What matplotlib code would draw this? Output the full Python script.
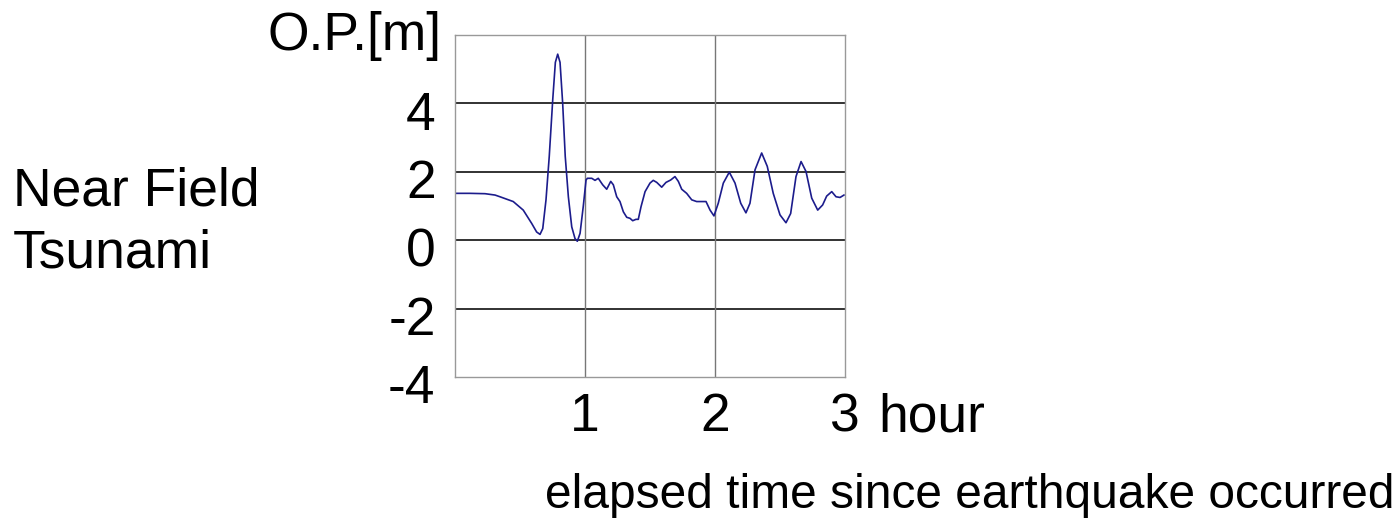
import numpy as np
import matplotlib
matplotlib.use('Agg')
import matplotlib.pyplot as plt
import matplotlib.transforms as mtransforms

plt.rcParams['font.family'] = ['Liberation Sans', 'DejaVu Sans']

# water level (hours since quake, metres O.P.)
hours = [0.0, 0.115, 0.231, 0.308, 0.346, 0.448, 0.525, 0.59, 0.628, 0.654,
         0.675, 0.7, 0.725, 0.752, 0.772, 0.79, 0.808, 0.828, 0.848, 0.872,
         0.898, 0.923, 0.941, 0.962, 0.987, 1.008, 1.018, 1.052, 1.077, 1.102,
         1.136, 1.167, 1.198, 1.218, 1.244, 1.269, 1.295, 1.321, 1.346, 1.367,
         1.392, 1.41, 1.431, 1.462, 1.5, 1.525, 1.552, 1.59, 1.623, 1.659,
         1.692, 1.718, 1.744, 1.782, 1.821, 1.859, 1.898, 1.931, 1.962, 1.992,
         2.025, 2.064, 2.11, 2.154, 2.198, 2.238, 2.269, 2.308, 2.359, 2.402,
         2.448, 2.5, 2.546, 2.582, 2.623, 2.662, 2.7, 2.744, 2.79, 2.828,
         2.859, 2.898, 2.931, 2.962, 2.992]
level = [1.37, 1.37, 1.36, 1.32, 1.27, 1.13, 0.88, 0.49, 0.24, 0.17,
         0.34, 1.18, 2.45, 4.12, 5.2, 5.44, 5.2, 4.02, 2.45, 1.27,
         0.39, 0.05, -0.03, 0.2, 1.0, 1.76, 1.81, 1.81, 1.75, 1.81,
         1.62, 1.49, 1.72, 1.62, 1.27, 1.13, 0.83, 0.67, 0.64, 0.57,
         0.61, 0.61, 0.98, 1.42, 1.67, 1.75, 1.69, 1.55, 1.69, 1.76,
         1.86, 1.72, 1.49, 1.37, 1.18, 1.13, 1.13, 1.13, 0.88, 0.71,
         1.08, 1.67, 1.99, 1.67, 1.08, 0.8, 1.08, 2.06, 2.55, 2.16,
         1.37, 0.74, 0.51, 0.78, 1.86, 2.3, 2.01, 1.23, 0.88, 1.03,
         1.29, 1.42, 1.27, 1.25, 1.32]

yticks = [-4, -2, 0, 2, 4]
xticks = [1, 2, 3]

fs = 38.4

fig = plt.figure(figsize=(13.97, 5.2), dpi=100)
ax = fig.add_axes([455/1397, 1-377/520, 390/1397, 342/520])

for y in [-2, 0, 2, 4]:
    ax.axhline(y, color='#222222', lw=1.3, zorder=1)
for x in [1, 2]:
    ax.axvline(x, color='#777777', lw=1.0, zorder=1)

ax.plot(hours, level, color='#1c1c8c', lw=1.2, zorder=2,
        solid_joinstyle='round')

ax.set_xlim(0, 3)
ax.set_ylim(-4, 6)
ax.set_xticks(xticks)
ax.set_yticks(yticks)
ax.set_yticklabels([str(v) for v in yticks])
ax.tick_params(length=0, labelsize=fs)
ax.tick_params(axis='y', pad=14)
ax.tick_params(axis='x', pad=11)
# the reference sets its y labels a touch below the grid lines
shift = mtransforms.ScaledTranslation(0, -5/72, fig.dpi_scale_trans)
for lab in ax.get_yticklabels():
    lab.set_transform(lab.get_transform() + shift)
for s in ax.spines.values():
    s.set_color('#999999')
    s.set_linewidth(1.0)

ax.annotate('hour', xy=(3, 0), xycoords=('data', 'axes fraction'),
            xytext=(24, -11), textcoords='offset points',
            ha='left', va='top', fontsize=fs)

fig.text(442/1397, 1-36/520, 'O.P.[m]', ha='right', va='center', fontsize=fs)
fig.text(13/1397, 1-192/520, 'Near Field', ha='left', va='center', fontsize=fs)
fig.text(13/1397, 1-254/520, 'Tsunami', ha='left', va='center', fontsize=fs)
fig.text(545/1397, 1-495/520, 'elapsed time since earthquake occurred',
         ha='left', va='center', fontsize=34.5)

fig.savefig('out.png', dpi=100)
